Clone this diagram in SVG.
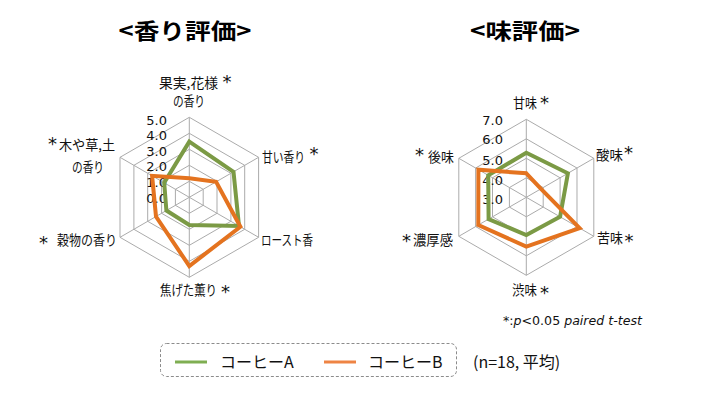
<svg xmlns="http://www.w3.org/2000/svg" width="710" height="400" viewBox="0 0 710 400">
<style>
.bg{fill:#fff}
.grid{fill:none;stroke:#ABABAB;stroke-width:1}
.a{fill:none;stroke:#7B9A45;stroke-width:4;stroke-linejoin:miter}
.b{fill:none;stroke:#E4731F;stroke-width:4;stroke-linejoin:miter}
.num{font-family:"DejaVu Sans",Verdana,sans-serif;font-size:13px;fill:#111;text-anchor:end}
.lab{font-family:"Noto Sans CJK JP","Noto Sans",sans-serif;font-size:13.5px;fill:#111}
.ast{font-family:"DejaVu Sans",sans-serif;font-size:18px;fill:#111}
.title{font-family:"Noto Sans CJK JP","Noto Sans",sans-serif;font-size:22px;font-weight:bold;fill:#000;text-anchor:middle}
.leg{font-family:"Noto Sans CJK JP","Noto Sans",sans-serif;font-size:16px;fill:#111}
.note{font-family:"DejaVu Sans",Verdana,sans-serif;font-size:12px;fill:#111}
</style>
<rect class="bg" x="0" y="0" width="710" height="400"/>

<g id="titles">
<text class="title" x="185" y="39" textLength="133" lengthAdjust="spacingAndGlyphs">&lt;香り評価&gt;</text>
<text class="title" x="525" y="39" textLength="110" lengthAdjust="spacingAndGlyphs">&lt;味評価&gt;</text>
</g>

<g id="chart-aroma">
<g id="aroma-grid" transform="translate(189.3,197.3)">
<polygon class="grid" points="0,-80 69.3,-40 69.3,40 0,80 -69.3,40 -69.3,-40"/>
<polygon class="grid" points="0,-64 55.4,-32 55.4,32 0,64 -55.4,32 -55.4,-32"/>
<polygon class="grid" points="0,-48 41.6,-24 41.6,24 0,48 -41.6,24 -41.6,-24"/>
<polygon class="grid" points="0,-32 27.7,-16 27.7,16 0,32 -27.7,16 -27.7,-16"/>
<polygon class="grid" points="0,-16 13.9,-8 13.9,8 0,16 -13.9,8 -13.9,-8"/>
<path class="grid" d="M0,0V-80M0,0L69.3,-40M0,0L69.3,40M0,0V80M0,0L-69.3,40M0,0L-69.3,-40"/>
</g>
<g id="aroma-scale">
<text class="num" x="167" y="124.5">5.0</text>
<text class="num" x="167" y="140.1">4.0</text>
<text class="num" x="167" y="155.7">3.0</text>
<text class="num" x="167" y="171.3">2.0</text>
<text class="num" x="167" y="186.9">1.0</text>
<text class="num" x="167" y="202.5">0.0</text>
</g>
<g id="aroma-series" transform="translate(189.3,197.3)">
<polygon class="a" points="0,-55.6 44.2,-25.5 49.7,28.7 0,27.7 -22.9,13.25 -25.1,-14.5"/>
<polygon class="b" points="0,-19 26.8,-15.5 51.1,29.5 0,68.7 -33.3,19.25 -37.2,-21.5"/>
</g>
<g id="aroma-labels">
<g id="ax-fruit"><text class="lab" x="159" y="87.5" textLength="59" lengthAdjust="spacingAndGlyphs">果実,花様</text><text class="ast" x="222.5" y="88">*</text><text class="lab" x="173" y="105.5" textLength="32" lengthAdjust="spacingAndGlyphs">の香り</text></g>
<g id="ax-sweet"><text class="lab" x="262" y="161.5" textLength="43" lengthAdjust="spacingAndGlyphs">甘い香り</text><text class="ast" x="309.5" y="160">*</text></g>
<g id="ax-roast"><text class="lab" x="261" y="244.5" textLength="52" lengthAdjust="spacingAndGlyphs">ロースト香</text></g>
<g id="ax-burnt"><text class="lab" x="160" y="294.5" textLength="57" lengthAdjust="spacingAndGlyphs">焦げた薫り</text><text class="ast" x="221" y="298">*</text></g>
<g id="ax-grain"><text class="ast" x="39" y="249">*</text><text class="lab" x="57" y="244.5" textLength="60" lengthAdjust="spacingAndGlyphs">穀物の香り</text></g>
<g id="ax-wood"><text class="ast" x="48" y="150">*</text><text class="lab" x="59" y="149.5" textLength="56" lengthAdjust="spacingAndGlyphs">木や草,土</text><text class="lab" x="72" y="171.5" textLength="32" lengthAdjust="spacingAndGlyphs">の香り</text></g>
</g>
</g>

<g id="chart-taste">
<g id="taste-grid" transform="translate(526.3,197.3)">
<polygon class="grid" points="0,-78 67.5,-39 67.5,39 0,78 -67.5,39 -67.5,-39"/>
<polygon class="grid" points="0,-58.5 50.7,-29.25 50.7,29.25 0,58.5 -50.7,29.25 -50.7,-29.25"/>
<polygon class="grid" points="0,-39 33.8,-19.5 33.8,19.5 0,39 -33.8,19.5 -33.8,-19.5"/>
<polygon class="grid" points="0,-19.5 16.9,-9.75 16.9,9.75 0,19.5 -16.9,9.75 -16.9,-9.75"/>
<path class="grid" d="M0,0V-78M0,0L67.5,-39M0,0L67.5,39M0,0V78M0,0L-67.5,39M0,0L-67.5,-39"/>
</g>
<g id="taste-scale">
<text class="num" x="503" y="124.8">7.0</text>
<text class="num" x="503" y="144.3">6.0</text>
<text class="num" x="503" y="164.5">5.0</text>
<text class="num" x="503" y="184.5">4.0</text>
<text class="num" x="503" y="204">3.0</text>
</g>
<g id="taste-series" transform="translate(526.3,197.3)">
<polygon class="a" points="0,-44.6 41.6,-24 33.8,19.5 0,37.7 -37.7,21.75 -38.1,-22"/>
<polygon class="b" points="0,-24 14.7,-8.5 53.3,30.75 0,49.3 -48,27.7 -47.9,-27.65"/>
</g>
<g id="taste-labels">
<g id="ax-amami"><text class="lab" x="513" y="108" textLength="24" lengthAdjust="spacingAndGlyphs">甘味</text><text class="ast" x="540" y="109">*</text></g>
<g id="ax-sanmi"><text class="lab" x="596" y="159.5" textLength="27" lengthAdjust="spacingAndGlyphs">酸味</text><text class="ast" x="624" y="159">*</text></g>
<g id="ax-nigami"><text class="lab" x="597" y="243" textLength="26" lengthAdjust="spacingAndGlyphs">苦味</text><text class="ast" x="624.5" y="247">*</text></g>
<g id="ax-shibumi"><text class="lab" x="512" y="294.5" textLength="25" lengthAdjust="spacingAndGlyphs">渋味</text><text class="ast" x="540" y="299">*</text></g>
<g id="ax-noukou"><text class="ast" x="402" y="247">*</text><text class="lab" x="413" y="244.5" textLength="40" lengthAdjust="spacingAndGlyphs">濃厚感</text></g>
<g id="ax-atoaji"><text class="ast" x="415" y="160.5">*</text><text class="lab" x="428" y="161.5" textLength="26" lengthAdjust="spacingAndGlyphs">後味</text></g>
</g>
</g>

<g id="footnote">
<text class="note" x="503" y="325" textLength="139" lengthAdjust="spacingAndGlyphs">*:<tspan font-style="italic">p</tspan>&lt;0.05 <tspan font-style="italic">paired t-test</tspan></text>
</g>

<g id="legend">
<rect x="160.5" y="343.5" width="296" height="33" rx="6" fill="none" stroke="#8C8C8C" stroke-width="1" stroke-dasharray="3,2"/>
<line x1="175" y1="362" x2="207" y2="362" stroke="#7FAE52" stroke-width="3"/>
<text class="leg" x="220" y="368">コーヒーA</text>
<line x1="324" y1="362" x2="356" y2="362" stroke="#EE8444" stroke-width="3"/>
<text class="leg" x="368" y="368">コーヒーB</text>
<text class="leg" x="473" y="368">(n=18, 平均)</text>
</g>
</svg>
